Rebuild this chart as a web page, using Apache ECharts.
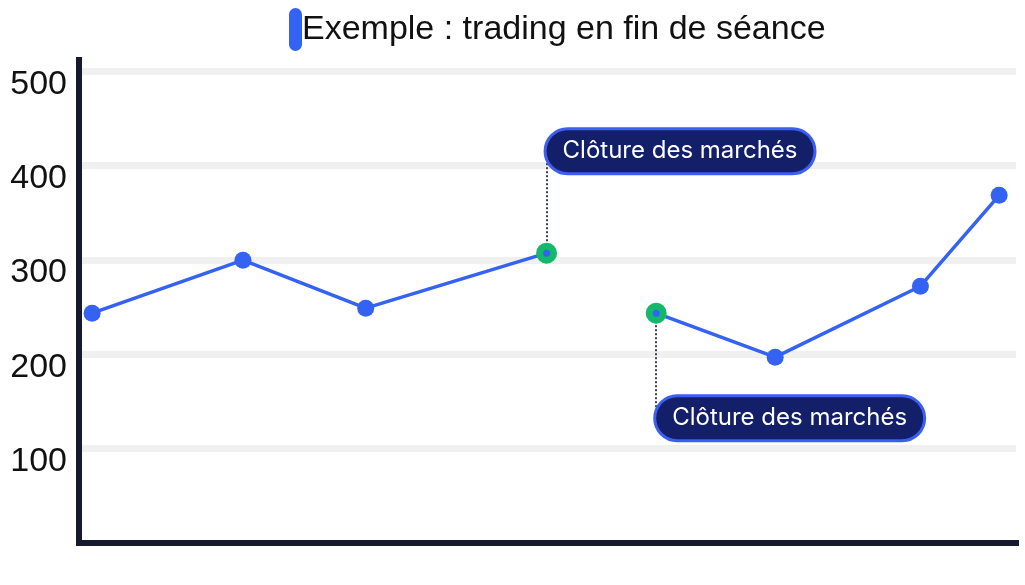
<!DOCTYPE html>
<html>
<head>
<meta charset="utf-8">
<script src="https://cdn.jsdelivr.net/npm/echarts@6/dist/echarts.min.js"></script>
<style>
html,body{margin:0;padding:0;background:#fff;}
#chart{width:1025px;height:585px;}
</style>
</head>
<body>
<div id="chart"></div>
<script>
// ---- data ----
const seriesName = 'Exemple : trading en fin de séance';
const session1X = [1.4, 17.5, 30.6, 49.9];
const session1Y = [243.6, 299.8, 248.9, 307.2];
const session2X = [61.6, 74.3, 89.8, 98.2];
const session2Y = [243.6, 197, 272.2, 368.6];
const calloutText = 'Clôture des marchés';
const calloutTop1 = 415;   // value where the dotted guide of the 1st callout ends
const calloutTop2 = 132;   // value where the dotted guide of the 2nd callout ends
const yTicks = [100, 200, 300, 400, 500];

const BLUE = '#3462f2';
const GREEN = '#13b86c';
const NAVY = '#131f69';
const AXIS = '#151a2c';

const calloutLabel = (dy) => ({
  show: true,
  position: 'inside',
  align: 'left',
  verticalAlign: 'middle',
  offset: [0, dy],
  formatter: calloutText,
  color: '#ffffff',
  fontFamily: 'Inter',
  fontSize: 24,
  lineHeight: 26,
  backgroundColor: NAVY,
  borderColor: '#3d5ef2',
  borderWidth: 3,
  borderRadius: 24,
  padding: [8, 16, 8, 16]
});

const greenStyle = { color: BLUE, borderColor: GREEN, borderWidth: 7 };

function buildData(xs, ys, special) {
  return xs.map((x, i) => {
    if (special[i]) {
      return { value: [x, ys[i]], symbolSize: 14, itemStyle: greenStyle, label: special[i] };
    }
    return { value: [x, ys[i]] };
  });
}

const data1 = buildData(session1X, session1Y, {3: calloutLabel(-102)});
const data2 = buildData(session2X, session2Y, {0: calloutLabel(105)});

const guideStyle = { color: '#3b4156', type: 'dotted', width: 2 };

const chart = echarts.init(document.getElementById('chart'));
chart.setOption({
  animation: false,
  backgroundColor: '#ffffff',
  legend: {
    left: 284,
    top: 3,
    itemWidth: 13,
    itemHeight: 43,
    itemGap: 10,
    icon: 'path://M6.5,0 A6.5,6.5 0 0 1 13,6.5 L13,36.5 A6.5,6.5 0 0 1 0,36.5 L0,6.5 A6.5,6.5 0 0 1 6.5,0 Z',
    textStyle: { fontFamily: 'Liberation Sans', fontSize: 34, color: '#111111', padding: [0, 0, 0, -5] },
    data: [{ name: seriesName, itemStyle: { color: BLUE } }]
  },
  grid: { left: 79, right: 9, top: 60, bottom: 42, containLabel: false },
  xAxis: {
    type: 'value',
    min: 0,
    max: 100,
    axisLine: { show: true, lineStyle: { color: AXIS, width: 6, cap: 'square' } },
    axisTick: { show: false },
    axisLabel: { show: false },
    splitLine: { show: false }
  },
  yAxis: {
    type: 'value',
    min: 0,
    max: 512,
    interval: 100,
    axisLine: { show: true, lineStyle: { color: AXIS, width: 6, cap: 'square' } },
    axisTick: { show: false },
    axisLabel: {
      margin: 12,
      fontFamily: 'Liberation Sans',
      fontSize: 34,
      lineHeight: 26,
      verticalAlign: 'top',
      color: '#111111',
      formatter: (v) => (yTicks.indexOf(v) >= 0 ? String(v) : '')
    },
    splitLine: {
      show: true,
      lineStyle: {
        width: 7,
        color: ['rgba(0,0,0,0)', '#f0f0f0', '#f0f0f0', '#f0f0f0', '#f0f0f0', '#f0f0f0', 'rgba(0,0,0,0)']
      }
    }
  },
  series: [
    {
      name: seriesName,
      type: 'line',
      data: data1,
      symbol: 'circle',
      symbolSize: 17,
      itemStyle: { color: BLUE },
      lineStyle: { color: BLUE, width: 3.5 },
      z: 3,
      markLine: {
        silent: true,
        symbol: 'none',
        label: { show: false },
        lineStyle: guideStyle,
        z: 1,
        data: [[
          { coord: [session1X[3], session1Y[3]] },
          { coord: [session1X[3], calloutTop1] }
        ]]
      }
    },
    {
      name: seriesName,
      type: 'line',
      data: data2,
      symbol: 'circle',
      symbolSize: 17,
      itemStyle: { color: BLUE },
      lineStyle: { color: BLUE, width: 3.5 },
      z: 3,
      markLine: {
        silent: true,
        symbol: 'none',
        label: { show: false },
        lineStyle: guideStyle,
        z: 1,
        data: [[
          { coord: [session2X[0], session2Y[0]] },
          { coord: [session2X[0], calloutTop2] }
        ]]
      }
    }
  ]
});
</script>
</body>
</html>
